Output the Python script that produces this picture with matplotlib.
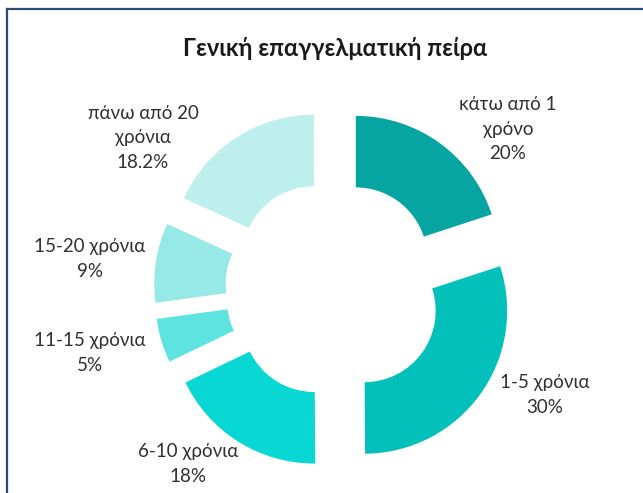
import numpy as np
import matplotlib.pyplot as plt
from matplotlib.lines import Line2D

plt.rcParams['font.family'] = ['Lato', 'DejaVu Sans']

title = "Γενική επαγγελματική πείρα"
categories = ["κάτω από 1\nχρόνο", "1-5 χρόνια", "6-10 χρόνια",
              "11-15 χρόνια", "15-20 χρόνια", "πάνω από 20\nχρόνια"]
values = [20, 30, 18, 5, 9, 18.2]
value_labels = ["20%", "30%", "18%", "5%", "9%", "18.2%"]
colors = ["#06a5a1", "#03c0bb", "#08d7d3", "#5ee3e0", "#97e9e7", "#bdefed"]

W, H = 643, 493
cx, cy, R = 334, 289, 143  # pixel centre and outer radius of the ring

fig = plt.figure(figsize=(W / 100, H / 100), dpi=100)
ax = fig.add_axes([0, 0, 1, 1])

ax.pie(values, colors=colors, startangle=90, counterclock=False,
       explode=[0.26] * len(values), radius=1,
       wedgeprops=dict(width=0.5, linewidth=0))

ax.set_xlim(-cx / R, (W - cx) / R)
ax.set_ylim(-(H - cy) / R, cy / R)
ax.set_aspect('equal')
ax.axis('off')

# label centres in pixels (x, y from top)
label_pos = [(508, 129), (545, 395), (188, 464), (90, 353), (90, 259), (143, 138)]
for cat, vl, (px, py) in zip(categories, value_labels, label_pos):
    ax.text((px - cx) / R, (cy - py) / R, cat + "\n" + vl, ha='center', va='center',
            fontsize=13.5, color='#303030', linespacing=1.55)

fig.text(335 / W, 1 - 48 / H, title, ha='center', va='center',
         fontsize=17, fontweight='bold', color='#1a1a1a')

# frame of the chart area (only top and left edges visible)
fig.add_artist(Line2D([6.5 / W, 6.5 / W], [0, 1 - 8.5 / H], color='#2c4a78', lw=1.6,
                      transform=fig.transFigure))
fig.add_artist(Line2D([6.5 / W, 1], [1 - 8.5 / H, 1 - 8.5 / H], color='#2c4a78', lw=1.6,
                      transform=fig.transFigure))

fig.savefig("out.png", dpi=100)
